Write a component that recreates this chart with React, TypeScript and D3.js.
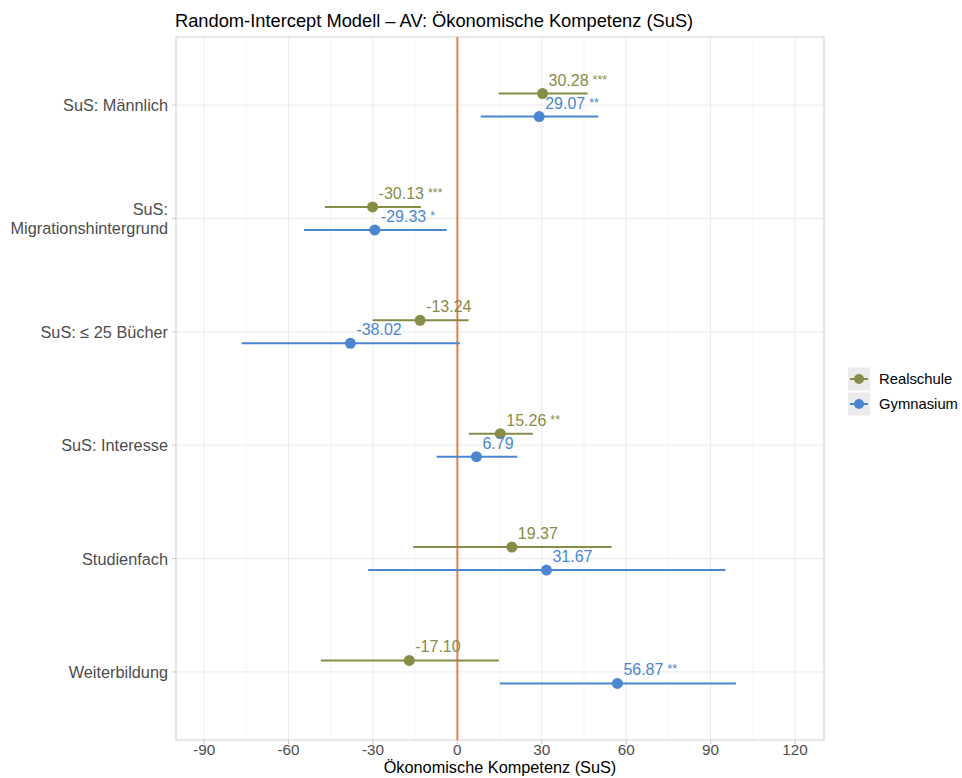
import React from "react";
import * as d3 from "d3";

const categories = ["SuS: Männlich", "SuS:\nMigrationshintergrund", "SuS: ≤ 25 Bücher", "SuS: Interesse", "Studienfach", "Weiterbildung"];
const groups = ["Realschule", "Gymnasium"];
const estRealschule = [30.28, -30.13, -13.24, 15.26, 19.37, -17.10];
const lowRealschule = [14.7, -47.1, -30.1, 4.1, -15.7, -48.5];
const highRealschule = [46.3, -13.0, 4.0, 26.8, 54.8, 14.7];
const sigRealschule = ["***", "***", "", "**", "", ""];
const estGymnasium = [29.07, -29.33, -38.02, 6.79, 31.67, 56.87];
const lowGymnasium = [8.3, -54.5, -76.7, -7.4, -31.7, 15.1];
const highGymnasium = [50.1, -3.8, 0.9, 21.3, 95.3, 99.0];
const sigGymnasium = ["**", "*", "", "", "", "**"];
const xTicks = [-90, -60, -30, 0, 30, 60, 90, 120];
const xMinor = [-75, -45, -15, 15, 45, 75, 105];

const colors: Record<string, string> = { Realschule: "#878C47", Gymnasium: "#4A86D2" };
const FONT = "'Liberation Sans', Arial, sans-serif";

export default function App() {
  const W = 962, H = 778;
  const left = 176, right = 824, top = 37, bottom = 740;
  const x = d3.scaleLinear().domain([-100, 130.3]).range([left, right]);
  const y = d3.scalePoint<string>().domain(categories).range([top, bottom]).padding(0.6);
  const dodge = 11.5;

  const series = [
    { name: "Realschule", est: estRealschule, lo: lowRealschule, hi: highRealschule, sig: sigRealschule, off: -dodge },
    { name: "Gymnasium", est: estGymnasium, lo: lowGymnasium, hi: highGymnasium, sig: sigGymnasium, off: dodge },
  ];

  return (
    <svg width={W} height={H} style={{ position: "absolute", left: 0, top: 0, background: "#fff" }} fontFamily={FONT}>
      <rect x={0} y={0} width={W} height={H} fill="#fff" />
      <text x={left - 1} y={27} fontSize={18.3} fill="#000">Random-Intercept Modell – AV: Ökonomische Kompetenz (SuS)</text>
      {/* grid */}
      {xMinor.map((t) => (
        <line key={"mn" + t} x1={x(t)} x2={x(t)} y1={top} y2={bottom} stroke="#F3F3F3" strokeWidth={0.8} />
      ))}
      {xTicks.map((t) => (
        <line key={"mj" + t} x1={x(t)} x2={x(t)} y1={top} y2={bottom} stroke="#EBEBEB" strokeWidth={1} />
      ))}
      {categories.map((c) => (
        <line key={"yg" + c} x1={left} x2={right} y1={y(c)} y2={y(c)} stroke="#EBEBEB" strokeWidth={1} />
      ))}
      <rect x={left} y={top} width={right - left} height={bottom - top} fill="none" stroke="#D0D0D0" strokeWidth={1} />
      {/* zero line */}
      <line x1={x(0)} x2={x(0)} y1={top} y2={bottom} stroke="#F07A48" strokeWidth={2} />
      {/* y axis */}
      {categories.map((c) => {
        const lines = c.split("\n");
        const cy = y(c)!;
        return (
          <g key={"yl" + c}>
            <line x1={left - 4} x2={left} y1={cy} y2={cy} stroke="#C8C8C8" />
            <text x={left - 8} y={cy - ((lines.length - 1) * 19) / 2} textAnchor="end" dominantBaseline="central" fontSize={16.3} fill="#4D4D4D">
              {lines.map((l, i) => (
                <tspan key={i} x={left - 8} dy={i === 0 ? 0 : 19}>{l}</tspan>
              ))}
            </text>
          </g>
        );
      })}
      {/* x axis */}
      {xTicks.map((t) => (
        <g key={"xt" + t}>
          <line x1={x(t)} x2={x(t)} y1={bottom} y2={bottom + 4} stroke="#C8C8C8" />
          <text x={x(t)} y={755} textAnchor="middle" fontSize={15.3} fill="#4D4D4D">{t}</text>
        </g>
      ))}
      <text x={(left + right) / 2} y={773} textAnchor="middle" fontSize={16.3} fill="#000">Ökonomische Kompetenz (SuS)</text>
      {/* data */}
      {series.map((s) => (
        <g key={s.name}>
          {categories.map((c, i) => {
            const cy = y(c)! + s.off;
            return (
              <g key={c}>
                <line x1={x(s.lo[i])} x2={x(s.hi[i])} y1={cy} y2={cy} stroke={colors[s.name]} strokeWidth={2} />
                <circle cx={x(s.est[i])} cy={cy} r={5.5} fill={colors[s.name]} />
                <text x={x(s.est[i]) + 6} y={cy - 8} fontSize={16} fill={colors[s.name]}>
                  {s.est[i].toFixed(2)}
                  {s.sig[i] ? <tspan fontSize={12.5} dx={4} dy={-2}>{s.sig[i]}</tspan> : null}
                </text>
              </g>
            );
          })}
        </g>
      ))}
      {/* legend */}
      {groups.map((g, i) => {
        const ly = 379 + i * 25;
        return (
          <g key={"lg" + g}>
            <rect x={848} y={ly - 11.5} width={22} height={23} fill="#EBEBEB" />
            <line x1={850} x2={868} y1={ly} y2={ly} stroke={colors[g]} strokeWidth={2} />
            <circle cx={859} cy={ly} r={5} fill={colors[g]} />
            <text x={879} y={ly} dominantBaseline="central" fontSize={14.8} fill="#000">{g}</text>
          </g>
        );
      })}
    </svg>
  );
}
